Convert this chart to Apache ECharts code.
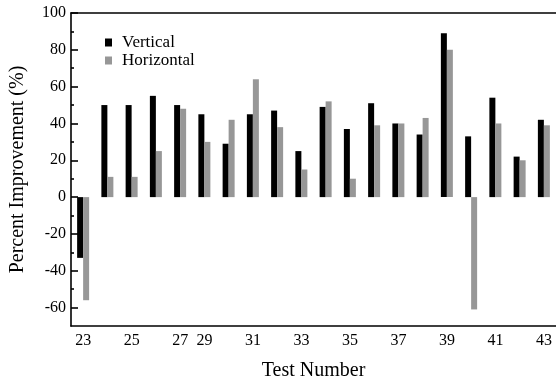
<!DOCTYPE html>
<html><head><meta charset="utf-8">
<script src="https://cdn.jsdelivr.net/npm/echarts@6/dist/echarts.min.js"></script>
<style>html,body{margin:0;padding:0;background:#fff}#c{width:556px;height:386px}</style>
</head><body><div id="c"></div>
<script>
const tests = ['23','24','25','26','27','29','30','31','32','33','34','35','36','37','38','39','40','41','42','43'];
const vertical = [-33, 50, 50, 55, 50, 45, 29, 45, 47, 25, 49, 37, 51, 40, 34, 89, 33, 54, 22, 42];
const horizontal = [-56, 11, 11, 25, 48, 30, 42, 64, 38, 15, 52, 10, 39, 40, 43, 80, -61, 40, 20, 39];
const yMajorTicks = [-60, -40, -20, 0, 20, 40, 60, 80, 100];
const yMinorTicks = [-50, -30, -10, 10, 30, 50, 70, 90];

const FONT = "'Liberation Serif', 'Times New Roman', serif";
const chart = echarts.init(document.getElementById('c'), null, {renderer: 'canvas'});
const lineStyle = {color: '#000', width: 1.6};
chart.setOption({
  animation: false,
  backgroundColor: '#fff',
  textStyle: {fontFamily: FONT, color: '#000'},
  legend: {
    orient: 'vertical', left: 100, top: 29, itemWidth: 7, itemHeight: 8, itemGap: 1,
    icon: 'rect',
    textStyle: {fontFamily: FONT, fontSize: 17, color: '#000', padding: [0, 0, 0, 5]},
    data: ['Vertical', 'Horizontal']
  },
  grid: {left: 71, top: 13, width: 490, height: 317, containLabel: false},
  xAxis: [{
    type: 'category', data: tests, position: 'bottom',
    name: 'Test Number', nameLocation: 'middle', nameGap: 35,
    nameTextStyle: {fontFamily: FONT, fontSize: 20, color: '#000'},
    axisLine: {onZero: false, lineStyle: lineStyle},
    axisTick: {inside: true, length: 5, alignWithLabel: true, interval: 0, lineStyle: lineStyle},
    axisLabel: {fontFamily: FONT, fontSize: 16, color: '#000', margin: 7,
      interval: function (i, v) { return (+v) % 2 === 1; }},
    splitLine: {show: false}
  }, {
    type: 'category', data: tests, position: 'top',
    axisLine: {onZero: false, lineStyle: lineStyle},
    axisTick: {inside: true, length: 6, alignWithLabel: true, interval: 0, lineStyle: lineStyle},
    axisLabel: {show: false}, splitLine: {show: false}
  }],
  yAxis: [{
    type: 'value', min: -70, max: 100, interval: 10, position: 'left',
    name: 'Percent Improvement (%)', nameLocation: 'middle', nameGap: 43,
    nameTextStyle: {fontFamily: FONT, fontSize: 20, color: '#000'},
    axisLine: {show: true, onZero: false, lineStyle: lineStyle},
    axisTick: {show: true, inside: true, length: 7, customValues: yMajorTicks, lineStyle: lineStyle},
    axisLabel: {fontFamily: FONT, fontSize: 16, color: '#000', margin: 5, padding: [4, 0, 0, 0], customValues: yMajorTicks},
    splitLine: {show: false}
  }, {
    type: 'value', min: -70, max: 100, interval: 10, position: 'left', offset: 0,
    axisLine: {show: false},
    axisTick: {show: true, inside: true, length: 3, customValues: yMinorTicks, lineStyle: lineStyle},
    axisLabel: {show: false},
    splitLine: {show: false}
  }],
  series: [{
    name: 'Vertical', type: 'bar', data: vertical, barWidth: 6, barGap: '0%',
    itemStyle: {color: '#000'}
  }, {
    name: 'Horizontal', type: 'bar', data: horizontal, barWidth: 6, barGap: '0%',
    itemStyle: {color: '#979797'}
  }]
});
</script>
</body></html>
